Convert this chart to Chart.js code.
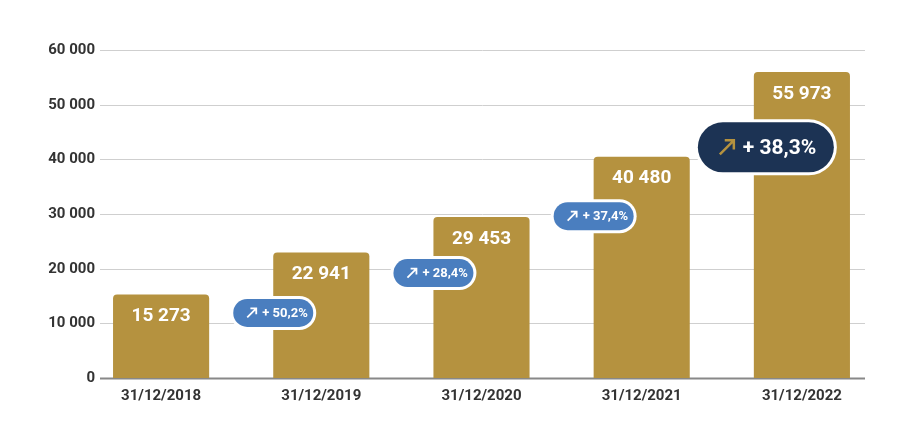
<!DOCTYPE html>
<html><head><meta charset="utf-8">
<script src="https://cdn.jsdelivr.net/npm/chart.js@4"></script>
<style>html,body{margin:0;padding:0;background:#fff}#w{width:904px;height:424px}</style>
</head><body><div id="w"><canvas id="c"></canvas></div>
<script>
const categories = ["31/12/2018","31/12/2019","31/12/2020","31/12/2021","31/12/2022"];
const values = [15273, 22941, 29453, 40480, 55973];
const valueLabels = ["15 273","22 941","29 453","40 480","55 973"];
const growthLabels = [null, "+ 50,2%", "+ 28,4%", "+ 37,4%", "+ 38,3%"];
const growthAnchor = [null, 11900, 19200, 29600, 42200];
const yTicks = [0,10000,20000,30000,40000,50000,60000];
const yTickLabels = ["0","10 000","20 000","30 000","40 000","50 000","60 000"];
const FONT = "Roboto, 'Liberation Sans Narrow', sans-serif";

function rr(ctx,x,y,w,h,r){ctx.beginPath();ctx.moveTo(x+r,y);ctx.arcTo(x+w,y,x+w,y+h,r);ctx.arcTo(x+w,y+h,x,y+h,r);ctx.arcTo(x,y+h,x,y,r);ctx.arcTo(x,y,x+w,y,r);ctx.closePath();}

const deco = {
  id:'deco',
  beforeDatasetsDraw(chart){
    const {ctx, scales:{y}} = chart;
    ctx.save();
    yTicks.forEach((t,i)=>{
      const py = Math.round(y.getPixelForValue(t))+0.5;
      ctx.strokeStyle = t===0 ? '#888' : '#cfcfcf';
      ctx.lineWidth = t===0 ? 2 : 1;
      ctx.beginPath();ctx.moveTo(100,py);ctx.lineTo(865,py);ctx.stroke();
      ctx.fillStyle='#333';ctx.font='bold 15px '+FONT;ctx.textAlign='right';ctx.textBaseline='middle';
      ctx.fillText(yTickLabels[i],95,py);
    });
    ctx.restore();
  },
  afterDatasetsDraw(chart){
    const {ctx, scales:{x,y}} = chart;
    const meta = chart.getDatasetMeta(0);
    ctx.save();
    meta.data.forEach((bar,i)=>{
      ctx.fillStyle='#fff';ctx.font='bold 19px '+FONT;ctx.textAlign='center';ctx.textBaseline='middle';
      ctx.fillText(valueLabels[i],bar.x,bar.y+22);
      ctx.fillStyle='#333';ctx.font='bold 15px '+FONT;
      ctx.fillText(categories[i],bar.x,396);
    });
    growthLabels.forEach((g,i)=>{
      if(!g) return;
      const bar = meta.data[i];
      const big = i===4;
      const cx = bar.x - bar.width/2 + (big?12:0);
      const cy = y.getPixelForValue(growthAnchor[i]);
      const w = big?136:80, h = big?50:28;
      ctx.font = 'bold '+(big?21:13)+'px '+FONT;
      rr(ctx,cx-w/2-3,cy-h/2-3,w+6,h+6,(h+6)/2);ctx.fillStyle='#fff';ctx.fill();
      rr(ctx,cx-w/2,cy-h/2,w,h,h/2);ctx.fillStyle=big?'#1c3354':'#4a7ebf';ctx.fill();
      // arrow
      const ax = cx - w/2 + (big?22:14), s = big?14:9;
      ctx.strokeStyle = big?'#b5923f':'#fff';ctx.lineWidth=big?2.5:1.8;
      ctx.beginPath();ctx.moveTo(ax,cy+s/2);ctx.lineTo(ax+s,cy-s/2);
      ctx.moveTo(ax+s*0.35,cy-s/2);ctx.lineTo(ax+s,cy-s/2);ctx.lineTo(ax+s,cy+s*0.15);ctx.stroke();
      ctx.fillStyle='#fff';ctx.textAlign='left';ctx.textBaseline='middle';
      ctx.fillText(g, ax+s+(big?9:6), cy+1);
    });
    ctx.restore();
  }
};

new Chart(document.getElementById('c'),{
  type:'bar',
  data:{labels:categories,datasets:[{data:values,backgroundColor:'#b5923f',borderRadius:{topLeft:4,topRight:4},borderSkipped:'bottom',barPercentage:0.6,categoryPercentage:1}]},
  options:{responsive:true,maintainAspectRatio:false,animation:false,
    layout:{padding:{left:81,right:22,top:50,bottom:46}},
    plugins:{legend:{display:false},tooltip:{enabled:false}},
    scales:{x:{display:false},y:{display:false,min:0,max:60000}}},
  plugins:[deco]
});
</script></body></html>
